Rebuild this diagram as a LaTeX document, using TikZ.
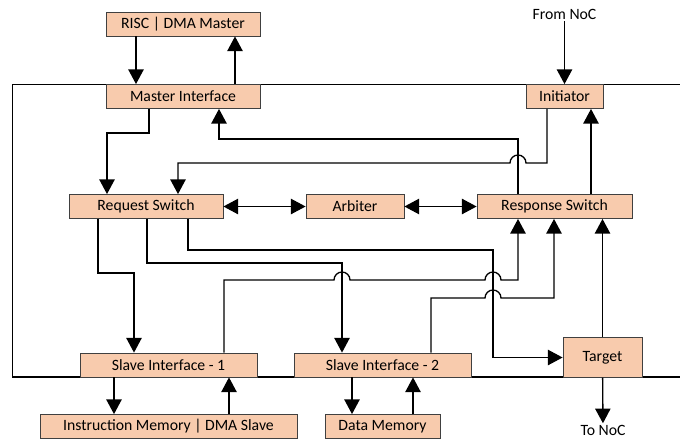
\documentclass[tikz,border=0pt]{standalone}
\usepackage{fontspec}
\setmainfont{Carlito}
\usetikzlibrary{arrows.meta}
\definecolor{peach}{HTML}{F8CBAD}

\begin{document}
\begin{tikzpicture}[x=0.75pt,y=-0.75pt,
  blk/.style={draw=black!75, line width=0.6pt, fill=peach, minimum height=18pt, inner sep=0pt, font=\fontsize{11.8}{13}\selectfont},
  lbl/.style={inner sep=1pt, font=\fontsize{11.8}{13}\selectfont},
  arr/.style={-{Triangle[length=11pt,width=11.5pt]}, line width=1pt},
  dbl/.style={{Triangle[length=11pt,width=11.5pt]}-{Triangle[length=11pt,width=11.5pt]}, line width=1pt},
  frame/.style={line width=1pt}]
\clip (0,0) rectangle (680,439);
% Outer boundary (open on the right)
\draw[frame] (680,84.5) -- (12.5,84.5) -- (12.5,377) -- (680,377);
% Blocks
\node[blk, minimum width=115.5pt] (risc) at (183,24) {RISC | DMA Master};
\node[blk, minimum width=115.5pt] (mi) at (183,96.5) {Master Interface};
\node[blk, minimum width=57.75pt] (init) at (564.5,96.5) {Initiator};
\node[blk, minimum width=115.5pt] (rqs) at (146,206.5) {Request Switch};
\node[blk, minimum width=73.5pt] (arb) at (355,206.5) {Arbiter};
\node[blk, minimum width=116.25pt] (rss) at (554.5,206.5) {Response Switch};
\node[blk, minimum width=132.75pt] (si1) at (168.5,365) {Slave Interface - 1};
\node[blk, minimum width=132.75pt] (si2) at (382.5,365) {Slave Interface - 2};
\node[blk, minimum width=59.25pt, minimum height=29.5pt] (tgt) at (602.5,357.5) {Target};
\node[blk, minimum width=192.75pt] (imem) at (168.5,426.5) {Instruction Memory | DMA Slave};
\node[blk, minimum width=86.25pt] (dmem) at (382.5,426.5) {Data Memory};
\node[lbl] (fromnoc) at (564.5,14) {From NoC};
\node[lbl] (tonoc) at (603,430) {To NoC};
% Straight links between stacked blocks
\foreach \x/\a/\b in {136/risc/mi, 114/si1/imem, 352/si2/dmem}
  \draw[arr] (\x,0 |- \a.south) -- (\x,0 |- \b.north);
\foreach \x/\a/\b in {235/risc/mi, 229/si1/imem, 413/si2/dmem, 591/init/rss}
  \draw[arr] (\x,0 |- \b.north) -- (\x,0 |- \a.south);
\draw[arr] (fromnoc) -- (init);
\draw[arr] (tgt) -- (tonoc);
\draw[arr] (tgt.north) -- (tgt.north |- rss.south);
% Arbiter handshakes
\draw[dbl] (rqs) -- (arb);
\draw[dbl] (arb) -- (rss);
% Master side
\draw[arr] (149,0 |- mi.south) |- (107,133) -- (107,0 |- rqs.north);
\draw[arr] (518,0 |- rss.north) |- (219,139) -- (219,0 |- mi.south);
\draw[arr] (547,0 |- init.south) |- (526,163) arc[start angle=0, end angle=180, radius=6pt]
  -- (178,163) -- (178,0 |- rqs.north);
% Request switch outputs
\draw[arr] (98,0 |- rqs.south) |- (134,273) -- (134,0 |- si1.north);
\draw[arr] (147,0 |- rqs.south) |- (342,263) -- (342,0 |- si2.north);
\draw[arr] (188,0 |- rqs.south) |- (493,250) |- (tgt.west);
% Responses back to the switch
\draw[arr] (224,0 |- si1.north) |- (334,280) arc[start angle=180, end angle=0, radius=6pt]
  -- (485,280) arc[start angle=180, end angle=0, radius=6pt]
  -- (518,280) -- (518,0 |- rss.south);
\draw[arr] (431,0 |- si2.north) |- (485,298) arc[start angle=180, end angle=0, radius=6pt]
  -- (554,298) -- (554,0 |- rss.south);
\end{tikzpicture}
\end{document}
